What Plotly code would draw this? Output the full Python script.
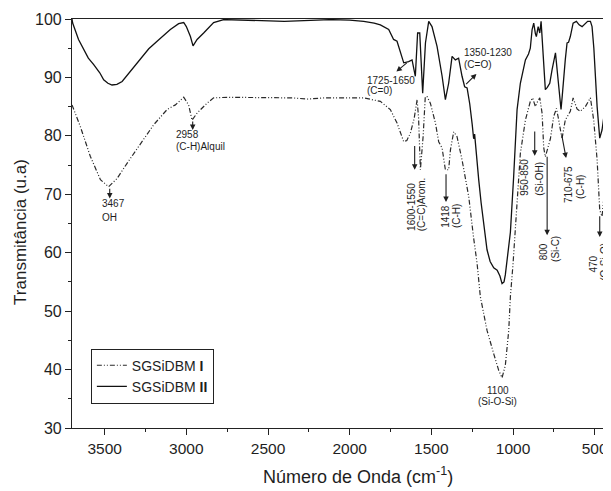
import plotly.graph_objects as go

# ---------------- data ----------------
wn_II = [3700, 3696, 3660, 3629, 3600, 3567, 3530, 3506, 3480, 3455, 3425, 3393, 3343, 3281, 3230,
         3179, 3130, 3098, 3047, 3016, 3000, 2975, 2959, 2945, 2934, 2894, 2860, 2833, 2771, 2600,
         2400, 2200, 2118, 2000, 1914, 1850, 1812, 1761, 1731, 1710, 1690, 1669, 1639, 1618, 1598,
         1584, 1571, 1553, 1536, 1516, 1496, 1465, 1434, 1414, 1394, 1373, 1353, 1333, 1312, 1296,
         1281, 1265, 1250, 1241, 1235, 1225, 1210, 1195, 1180, 1159, 1140, 1118, 1097, 1080, 1067,
         1055, 1047, 1035, 1026, 1016, 996, 975, 955, 924, 905, 894, 883, 873, 863, 857,
         846, 836, 828, 816, 808, 802, 790, 775, 761, 751, 740, 726, 715, 706, 698,
         690, 680, 669, 660, 649, 632, 612, 595, 577, 560, 543, 526, 516, 505, 496,
         485, 469, 455, 445, 435, 424, 410, 400]
tr_II = [100.0, 99.3, 96.5, 94.7, 93.3, 92.2, 90.8, 89.6, 89.0, 88.7, 88.8, 89.3, 91.0, 93.3, 94.9,
         96.2, 97.5, 98.2, 99.2, 99.4, 98.7, 97.0, 95.4, 96.0, 96.5, 97.6, 98.6, 99.4, 99.9, 99.8,
         99.6, 99.8, 99.9, 99.8, 99.6, 99.3, 99.0, 98.2, 96.5, 96.2, 94.2, 92.5, 92.7, 93.0, 90.2,
         97.6, 97.6, 87.3, 95.9, 99.6, 98.7, 95.3, 90.2, 86.2, 89.0, 93.6, 93.0, 93.3, 90.2, 88.4,
         88.2, 85.5, 82.0, 79.5, 80.3, 76.5, 72.5, 68.5, 65.0, 60.5, 58.5, 57.4, 57.0, 56.0, 54.7,
         55.0, 56.2, 59.0, 61.5, 63.5, 73.0, 84.5, 89.0, 93.0, 94.0, 95.0, 98.2, 99.3, 97.5, 97.0,
         98.7, 97.6, 99.6, 94.7, 90.0, 87.9, 88.3, 89.0, 91.3, 92.5, 94.2, 90.2, 87.0, 84.5, 87.0,
         90.2, 93.0, 95.9, 96.0, 97.0, 99.3, 99.6, 99.0, 98.7, 99.2, 99.6, 99.6, 98.7, 95.0, 90.2,
         85.0, 79.6, 81.0, 83.0, 86.0, 89.0, 91.8, 93.4]

wn_I = [3700, 3696, 3649, 3588, 3526, 3476, 3424, 3363, 3281, 3200, 3118, 3067, 3016, 2986, 2965,
        2950, 2934, 2873, 2833, 2750, 2500, 2350, 2261, 2150, 2057, 1914, 1812, 1751, 1710, 1690,
        1669, 1650, 1628, 1605, 1587, 1578, 1567, 1550, 1537, 1526, 1506, 1475, 1455, 1434, 1414,
        1394, 1383, 1363, 1343, 1312, 1292, 1271, 1241, 1220, 1200, 1159, 1118, 1088, 1067, 1047,
        1026, 1016, 1000, 985, 970, 955, 924, 894, 880, 863, 849, 836, 822, 812, 802,
        771, 751, 734, 720, 700, 680, 649, 632, 608, 588, 557, 526, 506, 485, 476,
        469, 455, 435, 414, 398]
tr_I = [85.3, 85.0, 81.6, 76.5, 72.5, 71.3, 72.7, 75.3, 78.7, 81.9, 84.5, 85.3, 86.6, 85.3, 82.7,
        83.2, 83.9, 85.6, 86.5, 86.6, 86.6, 86.5, 86.3, 86.5, 86.5, 86.5, 85.9, 84.5, 82.2, 80.5,
        79.0, 79.2, 80.5, 83.0, 86.2, 83.0, 74.2, 80.0, 86.7, 86.7, 85.6, 82.2, 79.0, 77.9, 74.2,
        74.2, 77.6, 80.7, 79.9, 75.9, 73.0, 69.6, 62.5, 58.2, 52.5, 46.7, 42.7, 39.9, 38.6, 40.7,
        46.7, 52.5, 58.0, 65.0, 72.0, 77.0, 82.7, 85.9, 86.5, 85.0, 85.9, 86.5, 83.9, 78.0, 76.4,
        79.5, 83.3, 84.7, 82.7, 79.5, 82.7, 84.2, 86.5, 84.6, 84.2, 85.0, 86.5, 82.7, 75.9, 72.0,
        67.3, 66.2, 71.9, 77.6, 79.3]

series_names = ["SGSiDBM <b>I</b>", "SGSiDBM <b>II</b>"]
x_ticks = [3500, 3000, 2500, 2000, 1500, 1000, 500]
y_ticks = [30, 40, 50, 60, 70, 80, 90, 100]

# ---------------- labels (text, position in data units) ----------------
FONT = "Arial, Liberation Sans, sans-serif"
INK = "#1e1e1e"

h_labels = [  # text, x, y, xanchor
    ("3467", 3526, 68.5, "left"), ("OH", 3526, 66.1, "left"),
    ("2958", 3078, 80.3, "left"), ("(C-H)Alquil", 3078, 78.1, "left"),
    ("1725-1650", 1904, 89.5, "left"), ("(C=0)", 1904, 87.8, "left"),
    ("1350-1230", 1312, 94.2, "left"), ("(C=O)", 1312, 92.2, "left"),
    ("1100", 1093, 36.5, "center"), ("(Si-O-Si)", 1093, 34.5, "center"),
]
v_labels = [  # text, x, y, yanchor
    ("1600-1550", 1618, 63.4, "bottom"), ("(C=C)Arom.", 1561, 63.4, "bottom"),
    ("1418", 1414, 63.9, "bottom"), ("(C-H)", 1342, 63.9, "bottom"),
    ("950-850", 930, 72.9, "middle"), ("(Si-OH)", 843, 72.6, "middle"),
    ("800", 812, 60.2, "middle"), ("(Si-C)", 741, 60.7, "middle"),
    ("710-675", 659, 71.7, "middle"), ("(C-H)", 588, 71.3, "middle"),
    ("470", 506, 58.1, "middle"), ("(O-Si-O)", 441, 58.5, "middle"),
]
arrows = [  # tail x, tail y, head x, head y
    (3469, 71.2, 3469, 69.3),
    (2961, 82.7, 2961, 81.0),
    (1641, 92.7, 1714, 91.0),
    (1296, 88.6, 1224, 90.6),
    (1602, 78.5, 1602, 74.2),
    (1410, 73.7, 1410, 68.7),
    (867, 81.0, 867, 76.6),
    (791, 76.7, 791, 63.0),
    (704, 80.5, 675, 76.2),
    (469, 66.5, 469, 62.7),
]

fig = go.Figure()
fig.add_trace(go.Scatter(x=wn_I, y=tr_I, mode="lines", name=series_names[0],
                         line=dict(color="#2a2a2a", width=1.2, dash="5px,2px,1px,2px,1px,2px")))
fig.add_trace(go.Scatter(x=wn_II, y=tr_II, mode="lines", name=series_names[1],
                         line=dict(color="#111111", width=1.3)))

ann = []
for t, x, y, xa in h_labels:
    ann.append(dict(text=t, x=x, y=y, xref="x", yref="y", showarrow=False,
                    xanchor=xa, yanchor="middle", font=dict(family=FONT, size=10, color=INK)))
for t, x, y, ya in v_labels:
    ann.append(dict(text=t, x=x, y=y, xref="x", yref="y", showarrow=False, textangle=-90,
                    xanchor="center", yanchor=ya, font=dict(family=FONT, size=10, color=INK)))
for tx, ty, hx, hy in arrows:
    ann.append(dict(text="", x=hx, y=hy, ax=tx, ay=ty, xref="x", yref="y", axref="x", ayref="y",
                    showarrow=True, arrowhead=2, arrowsize=1, arrowwidth=1.1, arrowcolor=INK,
                    standoff=0, startstandoff=0))
# axis titles
ann.append(dict(text="Número de Onda (cm<sup>-1</sup>)", xref="paper", yref="paper",
                x=0.53, y=-0.115, xanchor="center", yanchor="middle", showarrow=False,
                font=dict(family=FONT, size=18, color=INK)))
ann.append(dict(text="Transmitância (u.a)", xref="paper", yref="paper", textangle=-90,
                x=-0.096, y=0.48, xanchor="center", yanchor="middle", showarrow=False,
                font=dict(family=FONT, size=17, color=INK)))

# the page body has an 8px margin, so the figure is offset by that amount
fig.update_layout(
    width=603, height=483,
    margin=dict(l=64, r=0, t=11, b=63),
    paper_bgcolor="white", plot_bgcolor="white",
    font=dict(family=FONT, color=INK),
    annotations=ann,
    showlegend=True,
    legend=dict(x=0.035, y=0.194, xanchor="left", yanchor="top",
                bgcolor="white", bordercolor="#222", borderwidth=1,
                font=dict(family=FONT, size=14, color=INK), tracegroupgap=0),
)
fig.update_xaxes(range=[3700, 400], tickvals=x_ticks, ticks="outside", ticklen=6, tickwidth=1,
                 tickcolor="#222", showline=True, linecolor="#222", linewidth=1.2, mirror=True,
                 showgrid=False, zeroline=False, tickfont=dict(family=FONT, size=15.5, color=INK),
                 minor=dict(dtick=250, tick0=250, ticks="outside", ticklen=3, tickcolor="#222"))
fig.update_yaxes(range=[30, 100], tickvals=y_ticks, ticks="outside", ticklen=6, tickwidth=1,
                 tickcolor="#222", showline=True, linecolor="#222", linewidth=1.2,
                 showgrid=False, zeroline=False, tickfont=dict(family=FONT, size=16, color=INK),
                 minor=dict(dtick=5, tick0=0, ticks="outside", ticklen=3, tickcolor="#222"))

fig.write_html("out.html")
